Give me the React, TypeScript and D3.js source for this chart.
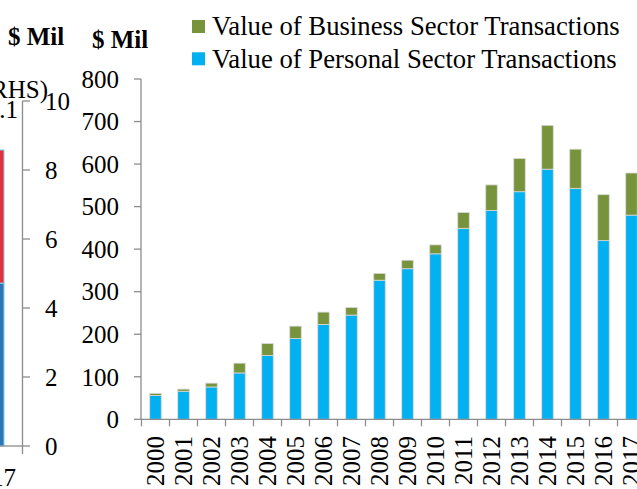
import React from "react";
import * as d3 from "d3";

// Main chart data ($ Mil)
const years = ["2000","2001","2002","2003","2004","2005","2006","2007","2008","2009","2010","2011","2012","2013","2014","2015","2016","2017"];
const personal = [56, 66, 76, 109, 150, 190, 223, 245, 327, 354, 389, 449, 491, 535, 588, 543, 420, 480];
const business = [5, 5, 9, 23, 28, 29, 29, 18, 16, 20, 21, 37, 60, 78, 103, 92, 108, 99];
const yTicks = [0, 100, 200, 300, 400, 500, 600, 700, 800];
const seriesNames = ["Value of Business Sector Transactions", "Value of Personal Sector Transactions"];
const seriesColors = ["#77933C", "#00B0F0"];

// Neighbouring (cut-off) chart on the left
const rhsTicks = [0, 2, 4, 6, 8, 10];
const leftLower = [4.72];
const leftUpper = [3.86];

const W = 637, H = 489;
const FONT = "'Liberation Serif', 'Times New Roman', serif";
const AX = "#8c8c8c";

export default function App() {
  const y = d3.scaleLinear().domain([0, 800]).range([419.3, 79]);
  const x = d3.scaleBand<string>().domain(years).range([141.5, 645.5]).paddingInner(0.59).paddingOuter(0.295);
  const step = x.step();
  const x0 = 141.5;
  const yR = d3.scaleLinear().domain([0, 10]).range([446, 101]);

  const stacked = d3.stack<any>().keys(["personal", "business"])(
    years.map((yr, i) => ({ year: yr, personal: personal[i], business: business[i] }))
  );
  const colorFor: Record<string, string> = { personal: seriesColors[1], business: seriesColors[0] };

  return (
    <svg width={W} height={H} style={{ position: "absolute", left: 0, top: 0, background: "#fff" }} fontFamily={FONT}>
      {/* left neighbouring chart fragment */}
      {leftLower.map((v, i) => (
        <g key={"lb" + i}>
          <rect x={-8} width={12} y={yR(v)} height={yR(0) - yR(v)} fill="#2E75B6" stroke="#7fd3f2" strokeWidth={1} />
          <rect x={-8} width={12} y={yR(v + leftUpper[i])} height={yR(v) - yR(v + leftUpper[i])} fill="#E2303A" stroke="#7fd3f2" strokeWidth={1} />
        </g>
      ))}
      <line x1={0} x2={22.5} y1={yR(0)} y2={yR(0)} stroke={AX} strokeWidth={1.3} />
      <line x1={22.5} x2={22.5} y1={yR(10)} y2={yR(0) + 8} stroke={AX} strokeWidth={1.3} />
      {rhsTicks.map((t) => (
        <g key={"r" + t}>
          <line x1={22.5} x2={30} y1={yR(t)} y2={yR(t)} stroke={AX} strokeWidth={1.3} />
          <text x={45} y={yR(t)} dy="0.35em" fontSize={25} fill="#000">{t}</text>
        </g>
      ))}
      <text x={48} y={98} textAnchor="end" fontSize={25} fill="#000">(RHS)</text>
      <text x={18} y={118} textAnchor="end" fontSize={25} fill="#000">11.1</text>
      <text x={16} y={486} textAnchor="end" fontSize={25} fill="#000">2017</text>
      <text x={8} y={45} fontSize={25} fontWeight="bold" fill="#000">$ Mil</text>

      {/* main chart */}
      <text x={92} y={48} fontSize={25} fontWeight="bold" fill="#000">$ Mil</text>

      {stacked.map((s) => (
        <g key={s.key} fill={colorFor[s.key]}>
          {s.map((d, i) => (
            <rect key={i} x={x(years[i])!} width={x.bandwidth()} y={y(d[1])} height={y(d[0]) - y(d[1])}
              stroke="#d9d9d9" strokeWidth={0.8} />
          ))}
        </g>
      ))}

      <line x1={141} x2={141} y1={y(800)} y2={y(0)} stroke={AX} strokeWidth={1.3} />
      {yTicks.map((t) => (
        <g key={"y" + t}>
          <line x1={134} x2={141} y1={y(t)} y2={y(t)} stroke={AX} strokeWidth={1.3} />
          <text x={119} y={y(t)} dy="0.35em" textAnchor="end" fontSize={25} fill="#000">{t}</text>
        </g>
      ))}
      <line x1={141} x2={W} y1={y(0)} y2={y(0)} stroke={AX} strokeWidth={1.3} />
      {years.map((yr, i) => (
        <line key={"xt" + yr} x1={x0 + i * step} x2={x0 + i * step} y1={y(0)} y2={y(0) + 7} stroke={AX} strokeWidth={1.3} />
      ))}
      {years.map((yr) => (
        <text key={"xl" + yr} transform={`translate(${x(yr)! + x.bandwidth() / 2},436) rotate(-90)`} dy="0.35em"
          textAnchor="end" fontSize={25} fill="#000">{yr}</text>
      ))}

      {/* legend */}
      {seriesNames.map((n, i) => (
        <g key={n}>
          <rect x={192} y={20 + i * 32.3} width={13} height={13} fill={seriesColors[i]} />
          <text x={212} y={35 + i * 32.5} fontSize={26.7} fill="#000">{n}</text>
        </g>
      ))}
    </svg>
  );
}
